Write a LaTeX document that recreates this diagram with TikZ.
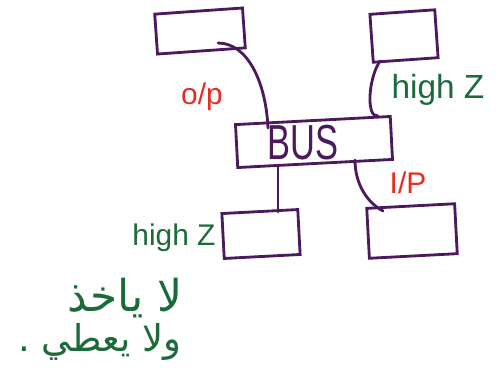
\documentclass[tikz,border=0pt]{standalone}
\usepackage{fontspec}
\setmainfont{Liberation Sans}
\newfontfamily\arabicfont[Script=Arabic]{DejaVu Sans}
\TeXXeTstate=1
\definecolor{ink}{RGB}{74,26,92}
\definecolor{redink}{RGB}{232,44,32}
\definecolor{greenink}{RGB}{28,105,58}
\begin{document}
\begin{tikzpicture}[x=0.02cm,y=-0.02cm,
  box/.style={draw=ink, line width=1.6pt, rectangle, inner sep=0pt},
  wire/.style={draw=ink, line width=1.6pt, line cap=round},
  outlabel/.style={text=redink, font=\fontsize{17}{17}\selectfont},
  zlabel/.style={text=greenink, font=\fontsize{19}{19}\selectfont},
  note/.style={text=greenink, font=\arabicfont\fontsize{21}{21}\selectfont}]
\path[fill=white] (0,0) rectangle (500,387);
\useasboundingbox (0,0) rectangle (500,387);

% the four units and the shared bus
\node[box, minimum width=1.76cm, minimum height=0.8cm, rotate=4] (tl) at (200,31) {};
\node[box, minimum width=1.3cm, minimum height=0.96cm, rotate=4] (tr) at (404,36) {};
\node[box, minimum width=3.1cm, minimum height=0.86cm, rotate=3] (bus) at (314,142) {};
\node[box, minimum width=1.52cm, minimum height=0.9cm, rotate=3] (bl) at (261,234) {};
\node[box, minimum width=1.76cm, minimum height=1.0cm, rotate=3] (br) at (412,231) {};

\node[text=ink, font=\fontsize{28}{28}\selectfont, xscale=0.7] (buslbl) at (303,143) {BUS};

% connections to the bus
\draw[wire] ([shift={(18,12)}]tl.center) .. controls +(30,0) and +(-2,-45) .. ([shift={(-46,-14)}]bus.center);
\draw[wire] ([shift={(-24,25)}]tr.center) .. controls +(-12,18) and +(-12,2) .. ([shift={(64,-26)}]bus.center);
\draw[wire] ([shift={(-36,24)}]bus.center) -- ([shift={(17,-22)}]bl.center);
\draw[wire] ([shift={(41,18)}]bus.center) .. controls +(0,25) and +(-15,-8) .. ([shift={(-29,-20)}]br.center);

% line states
\node[outlabel] (op) at (202,97) {o/p};
\node[outlabel] (ip) at (408,183) {I/P};
\node[zlabel] (hz1) at (438,90) {high Z};
\node[zlabel, font=\fontsize{17}{17}\selectfont] (hz2) at (174,238) {high Z};

% note
\node[note, font=\arabicfont\fontsize{25}{25}\selectfont] (n1) at (125,298) {\beginR لا ياخذ\endR};
\node[note] (n2) at (100,342) {\beginR ولا يعطي .\endR};
\end{tikzpicture}
\end{document}
